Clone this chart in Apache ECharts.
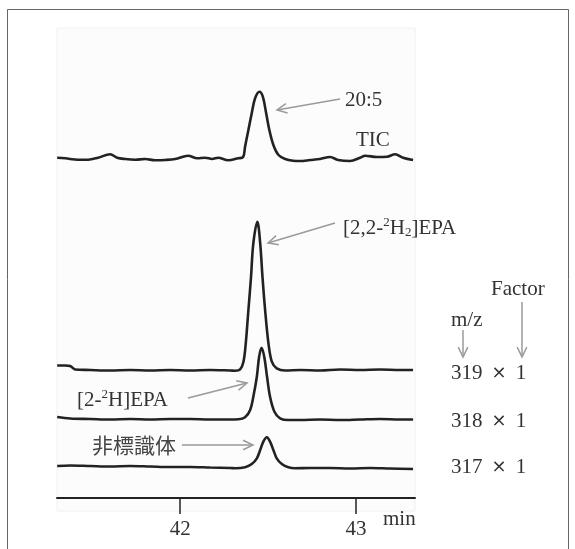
<!DOCTYPE html>
<html>
<head>
<meta charset="utf-8">
<script src="https://cdn.jsdelivr.net/npm/echarts@6/dist/echarts.min.js"></script>
<style>
  html, body { margin: 0; padding: 0; background: #fff; }
  #chart { width: 575px; height: 549px; }
</style>
</head>
<body>
<div id="chart"></div>
<script>
// retention time (min) and signal, one pair of arrays per trace
var ticTime = [41.301, 41.347, 41.420, 41.477, 41.534, 41.602, 41.642, 41.688, 41.744, 41.801, 41.858, 41.915, 41.972,
  42.045, 42.097, 42.142, 42.182, 42.216, 42.273, 42.330, 42.358, 42.369, 42.388, 42.407, 42.426, 42.451, 42.470,
  42.489, 42.507, 42.530, 42.559, 42.597, 42.642, 42.682, 42.739, 42.795, 42.852, 42.898, 42.966, 43.023, 43.051,
  43.119, 43.176, 43.222, 43.267, 43.324];
var ticSignal = [2.3, 1.7, 0.3, 0.3, 2.3, 5.7, 2.3, 1, 0.3, 1, -0.3, 0, 1,
  4.3, 1.7, 2.3, 1, 2.3, -0.3, 1.7, 3, 13.3, 30, 46.7, 61.7, 68.3, 63.3,
  46.7, 30, 15, 5, 1, -0.7, -1, 0, 1, 3, 0, -1, 2.3, 4.3,
  3, 3.3, 5.7, 2.3, 0];

var mz319Time = [41.301, 41.347, 41.375, 41.403, 41.489, 41.602, 41.716, 41.830, 41.943, 42.057, 42.170, 42.284,
  42.313, 42.341, 42.360, 42.373, 42.388, 42.403, 42.416, 42.439, 42.455, 42.468, 42.483, 42.502, 42.521, 42.549,
  42.597, 42.682, 42.795, 42.909, 43.023, 43.136, 43.250, 43.324];
var mz319Signal = [5.5, 5.5, 5, 1.5, 1, 0.5, 1, 0.5, 1, 0.5, 1, 0.5,
  0.3, 1.7, 9.3, 27.7, 61, 94.3, 127.7, 149.3, 127.7, 94.3, 61, 27.7, 9.3, 2.7,
  0.5, 1, 0.5, 1.5, 1, 1.5, 1, 1];

var mz318Time = [41.301, 41.375, 41.489, 41.602, 41.716, 41.830, 41.943, 42.057, 42.170, 42.284, 42.331, 42.369,
  42.398, 42.416, 42.436, 42.449, 42.463, 42.478, 42.494, 42.511, 42.536, 42.568, 42.615, 42.682, 42.795, 42.909,
  43.023, 43.136, 43.250, 43.324];
var mz318Signal = [3, 1.5, 1, 0.5, 1, 0.5, 1, 1, 0.5, 0.5, 0.7, 2.7,
  10, 23.3, 43.3, 63.3, 72.3, 63.3, 43.3, 23.3, 8.3, 1.7, 0, 0, 0.5, 0,
  0.5, 1, 0.5, 0.5];

var mz317Time = [41.301, 41.375, 41.489, 41.602, 41.716, 41.830, 41.943, 42.057, 42.170, 42.284, 42.313, 42.369,
  42.407, 42.436, 42.455, 42.473, 42.493, 42.511, 42.530, 42.549, 42.578, 42.615, 42.653, 42.739, 42.852, 42.966,
  43.080, 43.193, 43.324];
var mz317Signal = [2, 2.5, 2, 1.5, 2, 1.5, 1, 1, 0.5, 0, -0.3, 0.7,
  4, 9.7, 18, 26.3, 30.7, 26.3, 18, 9.7, 4, 0.7, -0.3, 0, 0, -0.5,
  0, -0.5, -1];

var tickLabels = [42, 43];
var factorRows = ['319', '318', '317'];

/*trace baselines (stack offsets) on the shared intensity scale*/
var offsets = { tic: 338, m319: 127, m318: 78, m317: 30 };

var serif = '"Liberation Serif", "Times New Roman", serif';
var textColor = '#333';
var arrowColor = '#9a9a9a';

function toPairs(time, signal, offset) {
  var out = [];
  for (var i = 0; i < time.length; i++) {
    out.push([time[i], signal[i] + offset]);
  }
  return out;
}

function traceSeries(data) {
  return {
    type: 'line',
    data: data,
    showSymbol: false,
    smooth: 0.35,
    lineStyle: { color: '#222', width: 2.6 },
    silent: true
  };
}

/*open V arrow from (x1,y1) to (x2,y2)*/
function arrow(x1, y1, x2, y2) {
  var a = Math.atan2(y2 - y1, x2 - x1);
  var h = 11, w = 0.45;
  return {
    type: 'group',
    silent: true,
    children: [{
      type: 'line',
      shape: { x1: x1, y1: y1, x2: x2, y2: y2 },
      style: { stroke: arrowColor, lineWidth: 1.5 }
    }, {
      type: 'polyline',
      shape: {
        points: [
          [x2 - h * Math.cos(a - w), y2 - h * Math.sin(a - w)],
          [x2, y2],
          [x2 - h * Math.cos(a + w), y2 - h * Math.sin(a + w)]
        ]
      },
      style: { stroke: arrowColor, lineWidth: 1.5, fill: null }
    }]
  };
}

function label(x, y, text, extra) {
  var style = {
    text: text,
    x: 0, y: 0,
    fontFamily: serif,
    fontSize: 21,
    fill: textColor,
    verticalAlign: 'middle',
    align: 'left'
  };
  for (var k in extra) style[k] = extra[k];
  return { type: 'text', x: x, y: y, silent: true, style: style };
}

var supSub = {
  sup: { fontSize: 13, lineHeight: 12, verticalAlign: 'top', fontFamily: serif, fill: textColor },
  sub: { fontSize: 13, lineHeight: 12, verticalAlign: 'bottom', fontFamily: serif, fill: textColor },
  n: { fontSize: 21, lineHeight: 23, fontFamily: serif, fill: textColor }
};

var graphics = [
  // outer frame
  { type: 'rect', shape: { x: 7.5, y: 9.5, width: 561, height: 560 }, style: { fill: null, stroke: '#666', lineWidth: 1 }, silent: true, z: -10 },
  // faint plot panel
  { type: 'rect', shape: { x: 57, y: 28, width: 358, height: 483 }, style: { fill: '#fcfcfc', stroke: '#f0f0f0', lineWidth: 1 }, silent: true, z: -9 },

  label(345, 100, '20:5'),
  arrow(340, 99, 277, 110),
  label(356, 140, 'TIC'),

  label(343, 228, '{n|[2,2-}{sup|2}{n|H}{sub|2}{n|]EPA}', { rich: supSub }),
  arrow(335, 223, 268, 243),

  label(77, 400, '{n|[2-}{sup|2}{n|H]EPA}', { rich: supSub }),
  arrow(188, 398, 247, 383),

  label(92, 445, '非標識体', { fontFamily: '"Noto Sans CJK JP", sans-serif', fontSize: 21, fill: '#444' }),
  arrow(182, 445, 253, 445),

  label(491, 289, 'Factor'),
  arrow(522, 302, 522, 357),
  label(451, 320, 'm/z'),
  arrow(463, 330, 463, 357),

  label(383, 519, 'min')
];

var rowY = [373, 421, 467];
for (var r = 0; r < factorRows.length; r++) {
  graphics.push(label(451, rowY[r], factorRows[r]));
  graphics.push(label(499, rowY[r], '×', { align: 'center', fontFamily: '"DejaVu Sans", sans-serif', fontSize: 18 }));
  graphics.push(label(521, rowY[r], '1', { align: 'center' }));
}

var chart = echarts.init(document.getElementById('chart'));
var option = {
  backgroundColor: '#fff',
  animation: false,
  grid: { left: 57, right: 160, top: 28, bottom: 51 },
  xAxis: {
    type: 'value',
    min: 41.3,
    max: 43.335,
    axisLine: { show: true, lineStyle: { color: '#222', width: 2 } },
    axisTick: {
      show: true,
      customValues: tickLabels,
      length: 16,
      lineStyle: { color: '#222', width: 1.5 }
    },
    axisLabel: {
      customValues: tickLabels,
      margin: 21,
      fontSize: 21,
      fontFamily: serif,
      color: textColor
    },
    splitLine: { show: false }
  },
  yAxis: {
    type: 'value',
    min: 0,
    max: 470,
    show: false
  },
  series: [
    traceSeries(toPairs(ticTime, ticSignal, offsets.tic)),
    traceSeries(toPairs(mz319Time, mz319Signal, offsets.m319)),
    traceSeries(toPairs(mz318Time, mz318Signal, offsets.m318)),
    traceSeries(toPairs(mz317Time, mz317Signal, offsets.m317))
  ],
  graphic: graphics
};
chart.setOption(option);
</script>
</body>
</html>
